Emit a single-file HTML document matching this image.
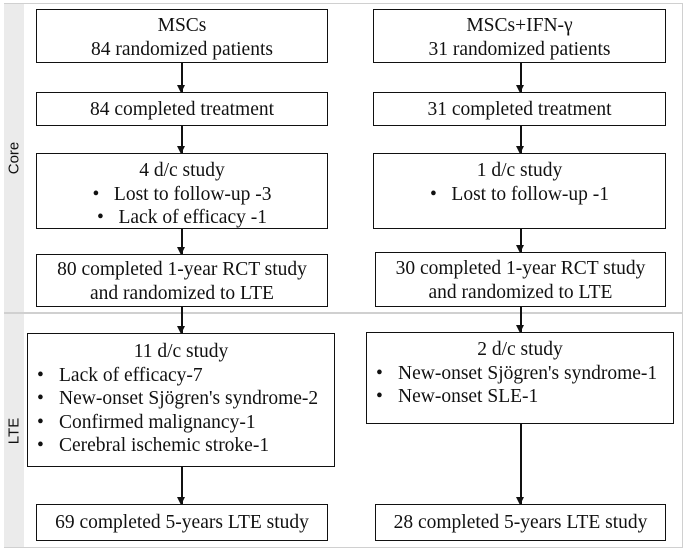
<!DOCTYPE html><html><head><style>
body{margin:0;width:685px;height:553px;background:#fff;position:relative;overflow:hidden;font-family:"Liberation Serif","Times New Roman",serif;font-size:19.5px;color:#111}
.b{position:absolute;border:1.5px solid #111;box-sizing:border-box;text-align:center;line-height:23.5px;background:#fff;white-space:nowrap}
.l{text-align:left}
.l div{padding-left:9px}
.l div span{display:inline-block;width:22px}
.a{position:absolute;width:1.5px;background:#111}
.a:after{content:"";position:absolute;bottom:-1px;left:-4px;border-left:4.75px solid transparent;border-right:4.75px solid transparent;border-top:8px solid #111}
.side{position:absolute;left:4px;width:20px;background:#ebebeb;font-family:"Liberation Sans",sans-serif;font-size:15px}
.side span{position:absolute;left:50%;top:50%;transform:translate(-50%,-50%) rotate(-90deg)}
</style></head><body>
<div style="position:absolute;left:4px;top:3px;width:679px;height:545px;border:1.5px solid #d0d0d0;box-sizing:border-box"></div>
<div style="position:absolute;left:4px;top:312px;width:679px;height:2px;background:#d0d0d0"></div>
<div class="side" style="top:4px;height:308px"><span>Core</span></div>
<div class="side" style="top:314px;height:233px"><span>LTE</span></div>

<div class="b" style="left:36px;top:9px;width:292px;height:54px;padding-top:4px">MSCs<br>84 randomized patients</div>
<div class="a" style="left:181px;top:63px;height:29px"></div>
<div class="b" style="left:36px;top:92px;width:292px;height:34px;padding-top:5px">84 completed treatment</div>
<div class="a" style="left:181px;top:126px;height:27px"></div>
<div class="b" style="left:36px;top:153px;width:292px;height:76px;padding-top:5px">4 d/c study<br>•&nbsp;&nbsp;&nbsp;Lost to follow-up -3<br>•&nbsp;&nbsp;&nbsp;Lack of efficacy -1</div>
<div class="a" style="left:181px;top:229px;height:25px"></div>
<div class="b" style="left:36px;top:254px;width:292px;height:53px;padding-top:3px">80 completed 1-year RCT study<br>and randomized to LTE</div>
<div class="a" style="left:181px;top:307px;height:26px"></div>
<div class="b l" style="left:27px;top:333px;width:308px;height:134px;padding-top:6px"><div style="text-align:center;padding:0">11 d/c study</div><div><span>•</span>Lack of efficacy-7</div><div><span>•</span>New-onset Sjögren's syndrome-2</div><div><span>•</span>Confirmed malignancy-1</div><div><span>•</span>Cerebral ischemic stroke-1</div></div>
<div class="a" style="left:181px;top:467px;height:37px"></div>
<div class="b" style="left:36px;top:504px;width:292px;height:37px;padding-top:6px">69 completed 5-years LTE study</div>

<div class="b" style="left:373px;top:9px;width:293px;height:54px;padding-top:4px">MSCs+IFN-γ<br>31 randomized patients</div>
<div class="a" style="left:520px;top:63px;height:29px"></div>
<div class="b" style="left:373px;top:92px;width:293px;height:34px;padding-top:5px">31 completed treatment</div>
<div class="a" style="left:520px;top:126px;height:27px"></div>
<div class="b" style="left:373px;top:153px;width:293px;height:76px;padding-top:5px">1 d/c study<br>•&nbsp;&nbsp;&nbsp;Lost to follow-up -1<br>&nbsp;</div>
<div class="a" style="left:520px;top:229px;height:23px"></div>
<div class="b" style="left:375px;top:252px;width:291px;height:55px;padding-top:4px">30 completed 1-year RCT study<br>and randomized to LTE</div>
<div class="a" style="left:520px;top:307px;height:25px"></div>
<div class="b l" style="left:366px;top:332px;width:308px;height:92px;padding-top:5px"><div style="text-align:center;padding:0">2 d/c study</div><div><span>•</span>New-onset Sjögren's syndrome-1</div><div><span>•</span>New-onset SLE-1</div></div>
<div class="a" style="left:520px;top:424px;height:80px"></div>
<div class="b" style="left:375px;top:504px;width:291px;height:37px;padding-top:6px">28 completed 5-years LTE study</div>
</body></html>
